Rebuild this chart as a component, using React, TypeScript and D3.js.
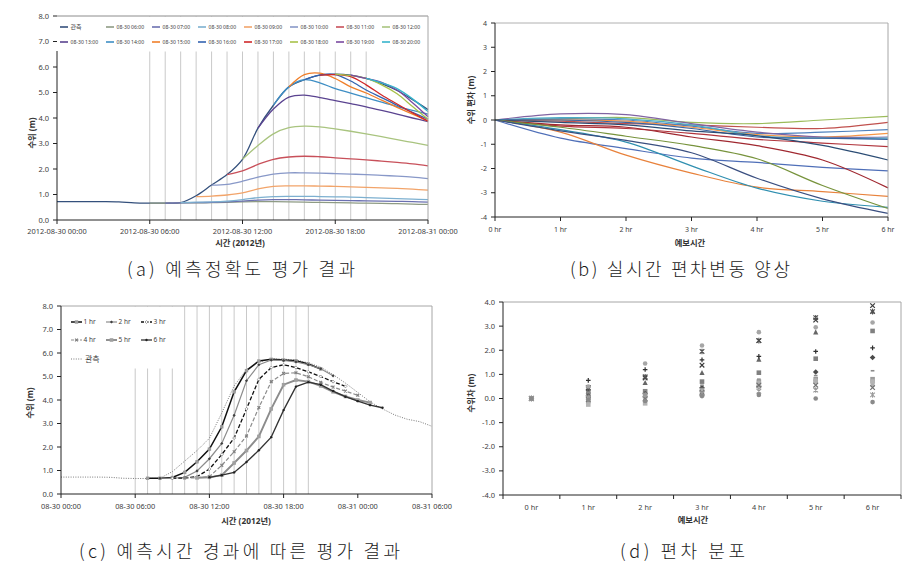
import React from "react";
import * as d3 from "d3";

// ================= Panel (a) data =================
const A_TICK_HOURS = [0, 6, 12, 18, 24];
const A_TICK_LABELS = ["2012-08-30 00:00", "2012-08-30 06:00", "2012-08-30 12:00", "2012-08-30 18:00", "2012-08-31 00:00"];
const A_Y_TICKS = [0, 1, 2, 3, 4, 5, 6, 7, 8];
const A_GRID_HOURS = [6, 7, 8, 9, 10, 11, 12, 13, 14, 15, 16, 17, 18, 19, 20];
// observed, hourly from 00:00 to 24:00
const A_OBS = [0.72, 0.72, 0.72, 0.72, 0.71, 0.67, 0.66, 0.66, 0.68, 0.95, 1.37, 1.78, 2.38, 3.6, 4.5, 5.22, 5.5, 5.68, 5.72, 5.68, 5.55, 5.35, 5.08, 4.72, 4.33];
// forecasts, hourly from issue hour to 24:00
const A_F06 = [0.66, 0.66, 0.67, 0.67, 0.68, 0.69, 0.71, 0.72, 0.72, 0.71, 0.7, 0.69, 0.68, 0.67, 0.66, 0.65, 0.64, 0.62, 0.61];
const A_F07 = [0.66, 0.67, 0.68, 0.69, 0.71, 0.74, 0.78, 0.8, 0.8, 0.79, 0.78, 0.77, 0.76, 0.75, 0.74, 0.73, 0.72, 0.7];
const A_F08 = [0.68, 0.7, 0.71, 0.74, 0.8, 0.88, 0.92, 0.93, 0.93, 0.92, 0.91, 0.9, 0.88, 0.86, 0.84, 0.82, 0.8];
const A_F09 = [0.92, 0.94, 0.98, 1.06, 1.22, 1.32, 1.34, 1.34, 1.33, 1.32, 1.3, 1.28, 1.26, 1.24, 1.21, 1.17];
const A_F10 = [1.37, 1.4, 1.52, 1.68, 1.8, 1.85, 1.85, 1.84, 1.82, 1.8, 1.78, 1.75, 1.72, 1.68, 1.62];
const A_F11 = [1.78, 1.93, 2.18, 2.38, 2.47, 2.5, 2.48, 2.44, 2.4, 2.36, 2.31, 2.26, 2.2, 2.12];
const A_F12 = [2.38, 2.92, 3.38, 3.62, 3.68, 3.65, 3.57, 3.48, 3.38, 3.27, 3.15, 3.04, 2.93];
const A_F13 = [3.6, 4.35, 4.82, 4.9, 4.8, 4.68, 4.56, 4.44, 4.3, 4.15, 4.0, 3.86];
const A_F14 = [4.5, 5.22, 5.5, 5.38, 5.15, 4.98, 4.8, 4.62, 4.45, 4.3, 4.15];
const A_F15 = [5.22, 5.7, 5.76, 5.55, 5.22, 4.98, 4.7, 4.42, 4.15, 3.88];
const A_F16 = [5.5, 5.68, 5.7, 5.45, 5.1, 4.8, 4.5, 4.22, 3.95];
const A_F17 = [5.68, 5.7, 5.62, 5.3, 4.9, 4.55, 4.2, 3.88];
const A_F18 = [5.72, 5.66, 5.55, 5.3, 4.95, 4.45, 3.95];
const A_F19 = [5.68, 5.55, 5.4, 5.1, 4.6, 4.05];
const A_F20 = [5.55, 5.38, 5.15, 4.75, 4.25];
const A_FORECASTS = [A_F06, A_F07, A_F08, A_F09, A_F10, A_F11, A_F12, A_F13, A_F14, A_F15, A_F16, A_F17, A_F18, A_F19, A_F20];
const A_ISSUE_HOURS = [6, 7, 8, 9, 10, 11, 12, 13, 14, 15, 16, 17, 18, 19, 20];
const A_LEGEND = ["관측", "08-30 06:00", "08-30 07:00", "08-30 08:00", "08-30 09:00", "08-30 10:00", "08-30 11:00", "08-30 12:00",
  "08-30 13:00", "08-30 14:00", "08-30 15:00", "08-30 16:00", "08-30 17:00", "08-30 18:00", "08-30 19:00", "08-30 20:00"];
const A_COLORS = ["#34507c", "#8e9b84", "#6b70b0", "#7db0d0", "#f2a46a", "#8898c8", "#c8505a", "#a9c47f",
  "#5a4390", "#3e8ec4", "#f07f2a", "#3363b0", "#d0282a", "#a8c24a", "#7a4aa0", "#36b4cc"];

// ================= Panel (b) data =================
const B_LEADS = ["0 hr", "1 hr", "2 hr", "3 hr", "4 hr", "5 hr", "6 hr"];
const B_Y_TICKS = [4, 3, 2, 1, 0, -1, -2, -3, -4];
const B_S01 = [0, 0.05, 0.1, -0.1, -0.15, 0.0, 0.15];
const B_S02 = [0, -0.05, -0.15, -0.2, -0.3, -0.35, -0.1];
const B_S03 = [0, 0.05, 0.0, -0.25, -0.55, -0.5, -0.4];
const B_S04 = [0, 0.0, -0.05, -0.3, -0.6, -0.7, -0.55];
const B_S05 = [0, 0.25, 0.22, -0.15, -0.5, -0.7, -0.7];
const B_S06 = [0, 0.1, 0.05, -0.2, -0.65, -0.75, -0.75];
const B_S07 = [0, 0.0, -0.1, -0.35, -0.7, -0.75, -0.8];
const B_S08 = [0, -0.25, -0.35, -0.55, -0.8, -0.95, -1.1];
const B_S09 = [0, -0.1, -0.2, -0.45, -0.65, -1.05, -1.65];
const B_S10 = [0, -0.75, -1.18, -1.57, -1.75, -1.95, -2.1];
const B_S11 = [0, -0.2, -0.3, -0.7, -1.06, -1.65, -2.8];
const B_S12 = [0, -0.5, -1.45, -2.19, -2.77, -2.95, -3.15];
const B_S13 = [0, -0.4, -0.91, -1.89, -2.81, -3.35, -3.6];
const B_S14 = [0, -0.3, -0.67, -1.05, -1.6, -2.7, -3.65];
const B_S15 = [0, -0.45, -0.84, -1.35, -2.4, -3.25, -3.85];
const B_SERIES = [B_S01, B_S02, B_S03, B_S04, B_S05, B_S06, B_S07, B_S08, B_S09, B_S10, B_S11, B_S12, B_S13, B_S14, B_S15];
const B_COLORS = ["#9bbb59", "#c0504d", "#4f81bd", "#f79646", "#8064a2", "#4bacc6", "#3b64a0", "#b0343c",
  "#2c4d75", "#4f6fb8", "#a02830", "#e8823c", "#2f8fb0", "#77933c", "#3a4f80"];

// ================= Panel (c) data =================
const C_TICK_HOURS = [0, 6, 12, 18, 24, 30];
const C_TICK_LABELS = ["08-30 00:00", "08-30 06:00", "08-30 12:00", "08-30 18:00", "08-31 00:00", "08-31 06:00"];
const C_Y_TICKS = [0, 1, 2, 3, 4, 5, 6, 7, 8];
const C_GRID_HOURS = [6, 7, 8, 9, 10, 11, 12, 13, 14, 15, 16, 17, 18, 19, 20];
const C_OBS = [0.72, 0.72, 0.72, 0.72, 0.71, 0.67, 0.66, 0.66, 0.67, 0.95, 1.4, 1.85, 2.37, 3.45, 4.6, 5.3, 5.62, 5.75, 5.74, 5.7, 5.58, 5.4, 5.08, 4.72, 4.32, 3.92, 3.62, 3.36, 3.18, 3.08, 2.88];
const C_H1 = [0.67, 0.67, 0.7, 0.92, 1.37, 1.91, 2.86, 4.35, 5.25, 5.66, 5.73, 5.7, 5.67, 5.53, 5.32];
const C_H2 = [0.67, 0.67, 0.71, 0.98, 1.5, 2.15, 3.35, 4.82, 5.5, 5.7, 5.68, 5.62, 5.5, 5.33, 5.03];
const C_H3 = [0.67, 0.68, 0.74, 1.06, 1.68, 2.38, 3.62, 4.88, 5.38, 5.5, 5.38, 5.2, 5.0, 4.78, 4.58];
const C_H4 = [0.68, 0.69, 0.74, 1.22, 1.8, 2.47, 3.68, 4.78, 5.13, 5.16, 4.99, 4.75, 4.55, 4.38, 4.2];
const C_H5 = [0.69, 0.71, 0.8, 1.32, 1.85, 2.45, 3.62, 4.65, 4.85, 4.78, 4.6, 4.35, 4.15, 4.0, 3.89];
const C_H6 = [0.71, 0.8, 0.92, 1.36, 1.86, 2.42, 3.57, 4.57, 4.76, 4.65, 4.38, 4.14, 3.95, 3.78, 3.67];
const C_SERIES = [C_H1, C_H2, C_H3, C_H4, C_H5, C_H6];
const C_START = [7, 8, 9, 10, 11, 12];
const C_NAMES = ["1 hr", "2 hr", "3 hr", "4 hr", "5 hr", "6 hr"];

// ================= Panel (d) data =================
const D_Y_TICKS = [4, 3, 2, 1, 0, -1, -2, -3, -4];
const D_S01 = [0, -0.05, -0.1, 0.1, 0.15, 0.0, -0.15];
const D_S02 = [0, 0.05, 0.15, 0.2, 0.3, 0.35, 0.15];
const D_S03 = [0, -0.05, 0.0, 0.25, 0.55, 0.55, 0.45];
const D_S04 = [0, 0.0, 0.05, 0.3, 0.65, 0.75, 0.55];
const D_S05 = [0, -0.25, -0.2, 0.15, 0.5, 0.7, 0.7];
const D_S06 = [0, -0.1, -0.05, 0.2, 0.62, 0.75, 0.75];
const D_S07 = [0, 0.0, 0.1, 0.35, 0.7, 0.8, 0.8];
const D_S08 = [0, 0.25, 0.35, 0.55, 0.8, 0.95, 1.15];
const D_S09 = [0, 0.1, 0.2, 0.45, 0.5, 1.1, 1.7];
const D_S10 = [0, 0.75, 1.2, 1.6, 1.75, 1.95, 2.1];
const D_S11 = [0, 0.2, 0.3, 0.7, 1.07, 1.65, 2.8];
const D_S12 = [0, 0.5, 1.45, 2.2, 2.75, 2.95, 3.15];
const D_S13 = [0, 0.4, 0.9, 1.95, 2.4, 3.35, 3.6];
const D_S14 = [0, 0.3, 0.65, 1.07, 1.62, 2.75, 3.62];
const D_S15 = [0, 0.45, 0.85, 1.38, 2.4, 3.25, 3.85];
const D_SERIES = [D_S01, D_S02, D_S03, D_S04, D_S05, D_S06, D_S07, D_S08, D_S09, D_S10, D_S11, D_S12, D_S13, D_S14, D_S15];
const D_MARKERS = ["circle", "star", "x", "circle", "square", "triangle", "square", "dash", "diamond", "plus", "square", "circle", "star", "triangle", "x"];
const D_COLORS = ["#8a8a8a", "#9a9a9a", "#707070", "#b0b0b0", "#b4b4b4", "#a0a0a0", "#9a9a9a", "#8a8a8a", "#4a4a4a", "#303030", "#808080", "#a6a6a6", "#505050", "#666666", "#3a3a3a"];

// ================= helpers =================
const FONT = "'Noto Sans', 'Noto Sans CJK KR', sans-serif";
const KFONT = "'Noto Sans CJK KR', sans-serif";
const TICK_COLOR = "#404040";

function Marker({ shape, x, y, s, color }: { shape: string; x: number; y: number; s: number; color: string }) {
  const h = s / 2;
  switch (shape) {
    case "circle":
      return <circle cx={x} cy={y} r={h} fill={color} />;
    case "square":
      return <rect x={x - h} y={y - h} width={s} height={s} fill={color} />;
    case "triangle":
      return <path d={`M${x},${y - h - 0.5}L${x + h + 0.3},${y + h}L${x - h - 0.3},${y + h}Z`} fill={color} />;
    case "diamond":
      return <path d={`M${x},${y - h - 0.5}L${x + h + 0.5},${y}L${x},${y + h + 0.5}L${x - h - 0.5},${y}Z`} fill={color} />;
    case "x":
      return <path d={`M${x - h},${y - h}L${x + h},${y + h}M${x + h},${y - h}L${x - h},${y + h}`} stroke={color} strokeWidth={1.2} fill="none" />;
    case "plus":
      return <path d={`M${x - h},${y}L${x + h},${y}M${x},${y - h}L${x},${y + h}`} stroke={color} strokeWidth={1.2} fill="none" />;
    case "star":
      return <path d={`M${x - h},${y - h}L${x + h},${y + h}M${x + h},${y - h}L${x - h},${y + h}M${x},${y - h - 0.5}L${x},${y + h + 0.5}`} stroke={color} strokeWidth={1.1} fill="none" />;
    case "dash":
      return <rect x={x - h * 0.8} y={y - 0.8} width={s * 0.8} height={1.6} fill={color} />;
    case "hdiamond":
      return <path d={`M${x},${y - h}L${x + h},${y}L${x},${y + h}L${x - h},${y}Z`} fill="#fff" stroke={color} strokeWidth={0.8} />;
    default:
      return null;
  }
}

// styles for (c) series
const C_STYLE = [
  { stroke: "#111", width: 1.5, dash: "", marker: "square", msize: 3.4, mcolor: "#9a9a9a" },
  { stroke: "#8c8c8c", width: 1.2, dash: "", marker: "diamond", msize: 2.2, mcolor: "#404040" },
  { stroke: "#111", width: 1.3, dash: "4,2", marker: "hdiamond", msize: 3, mcolor: "#8c8c8c" },
  { stroke: "#8c8c8c", width: 1.2, dash: "4,2", marker: "x", msize: 2.8, mcolor: "#808080" },
  { stroke: "#8c8c8c", width: 1.9, dash: "", marker: "square", msize: 3.6, mcolor: "#a0a0a0" },
  { stroke: "#333", width: 1.3, dash: "", marker: "circle", msize: 2.4, mcolor: "#222" },
];

export default function App() {
  // ---------- (a) ----------
  const ax = d3.scaleLinear().domain([0, 24]).range([57, 428]);
  const ay = d3.scaleLinear().domain([0, 8]).range([220, 16]);
  const lineA = (start: number) =>
    d3.line<number>().x((_, i) => ax(start + i)).y((v) => ay(v)).curve(d3.curveCatmullRom.alpha(0.5));

  // ---------- (b) ----------
  const bx = d3.scalePoint<string>().domain(B_LEADS).range([495, 888]);
  const by = d3.scaleLinear().domain([-4, 4]).range([217, 23]);
  const lineB = d3.line<number>().x((_, i) => bx(B_LEADS[i]) as number).y((v) => by(v)).curve(d3.curveCatmullRom.alpha(0.5));

  // ---------- (c) ----------
  const cx = d3.scaleLinear().domain([0, 30]).range([61, 432]);
  const cy = d3.scaleLinear().domain([0, 8]).range([494, 306]);
  const lineC = (start: number) => d3.line<number>().x((_, i) => cx(start + i)).y((v) => cy(v));

  // ---------- (d) ----------
  const dx = d3.scaleBand<string>().domain(B_LEADS).range([503, 901]);
  const dy = d3.scaleLinear().domain([-4, 4]).range([495, 302]);

  const legendRows = [A_LEGEND.slice(0, 8), A_LEGEND.slice(8)];
  const dOrder = D_SERIES.map((_, i) => D_SERIES.length - 1 - i);

  return (
    <svg width={922} height={567} style={{ position: "absolute", left: 0, top: 0, background: "#fff" }} fontFamily={FONT}>
      <rect x={0} y={0} width={922} height={567} fill="#fff" />

      {/* ================= (a) ================= */}
      <g>
        {A_GRID_HOURS.map((h) => (
          <line key={h} x1={ax(h)} x2={ax(h)} y1={ay(8)} y2={ay(0)} stroke="#c9c9c9" strokeWidth={1} />
        ))}
        <path d={lineA(0)(A_OBS) || ""} fill="none" stroke={A_COLORS[0]} strokeWidth={1.3} />
        {A_FORECASTS.map((s, i) => (
          <path key={i} d={lineA(A_ISSUE_HOURS[i])(s) || ""} fill="none" stroke={A_COLORS[i + 1]} strokeWidth={1.3} />
        ))}
        {/* legend box */}
        <rect x={56.5} y={16.5} width={371} height={35} fill="#fff" />
        {legendRows.map((row, r) =>
          row.map((name, k) => {
            const idx = r * 8 + k;
            const x0 = 60 + 46 * k;
            const y0 = r === 0 ? 27 : 42;
            return (
              <g key={idx}>
                <line x1={x0} x2={x0 + 8} y1={y0} y2={y0} stroke={A_COLORS[idx]} strokeWidth={1.6} />
                <text x={x0 + 10.5} y={y0 + 1.8} fontSize={idx === 0 ? 6 : 5.1} fill={TICK_COLOR} fontFamily={idx === 0 ? KFONT : FONT}>
                  {name}
                </text>
              </g>
            );
          })
        )}
        {/* frame */}
        <line x1={57} x2={428} y1={16} y2={16} stroke="#8c8c8c" strokeWidth={1} />
        <line x1={428} x2={428} y1={16} y2={220} stroke="#a6a6a6" strokeWidth={1} />
        <line x1={57} x2={57} y1={51} y2={220} stroke="#222" strokeWidth={1} />
        <line x1={57} x2={428} y1={220} y2={220} stroke="#222" strokeWidth={1} />
        {A_Y_TICKS.map((t) => (
          <g key={t}>
            <line x1={53} x2={57} y1={ay(t)} y2={ay(t)} stroke="#222" />
            <text x={49} y={ay(t) + 2.6} fontSize={7.5} textAnchor="end" fill={TICK_COLOR}>
              {t.toFixed(1)}
            </text>
          </g>
        ))}
        {A_TICK_HOURS.map((h, i) => (
          <g key={h}>
            <line x1={ax(h)} x2={ax(h)} y1={220} y2={224} stroke="#222" />
            <text x={ax(h)} y={234} fontSize={7.4} textAnchor="middle" fill={TICK_COLOR}>
              {A_TICK_LABELS[i]}
            </text>
          </g>
        ))}
        <text x={240} y={246} fontSize={8.3} fontWeight={700} textAnchor="middle" fill="#333">
          시간 (2012년)
        </text>
        <text transform="translate(35,133) rotate(-90)" fontSize={8.3} fontWeight={700} textAnchor="middle" fill="#333">
          수위 (m)
        </text>
      </g>

      {/* ================= (b) ================= */}
      <g>
        {B_SERIES.map((s, i) => (
          <path key={i} d={lineB(s) || ""} fill="none" stroke={B_COLORS[i]} strokeWidth={1.2} />
        ))}
        <line x1={495} x2={888} y1={23} y2={23} stroke="#b0b0b0" />
        <line x1={888} x2={888} y1={23} y2={217} stroke="#a6a6a6" />
        <line x1={495} x2={495} y1={23} y2={217} stroke="#222" />
        <line x1={495} x2={888} y1={217} y2={217} stroke="#222" />
        {B_Y_TICKS.map((t) => (
          <g key={t}>
            <line x1={491} x2={495} y1={by(t)} y2={by(t)} stroke="#222" />
            <text x={487} y={by(t) + 2.5} fontSize={7} textAnchor="end" fill={TICK_COLOR}>
              {t}
            </text>
          </g>
        ))}
        {B_LEADS.map((l) => (
          <g key={l}>
            <line x1={bx(l)} x2={bx(l)} y1={217} y2={221} stroke="#222" />
            <text x={bx(l)} y={231.5} fontSize={7} textAnchor="middle" fill={TICK_COLOR}>
              {l}
            </text>
          </g>
        ))}
        <text x={690} y={246} fontSize={8.3} fontWeight={700} textAnchor="middle" fill="#333">
          예보시간
        </text>
        <text transform="translate(474,100) rotate(-90)" fontSize={8.3} fontWeight={700} textAnchor="middle" fill="#333">
          수위 편차 (m)
        </text>
      </g>

      {/* ================= (c) ================= */}
      <g>
        {C_GRID_HOURS.map((h) => (
          <line key={h} x1={cx(h)} x2={cx(h)} y1={cy(8)} y2={cy(0)} stroke="#c9c9c9" strokeWidth={1} />
        ))}
        <path d={lineC(0)(C_OBS) || ""} fill="none" stroke="#7a7a7a" strokeWidth={1} strokeDasharray="1,1.4" />
        {C_SERIES.map((s, i) => {
          const st = C_STYLE[i];
          return (
            <g key={i}>
              <path d={lineC(C_START[i])(s) || ""} fill="none" stroke={st.stroke} strokeWidth={st.width} strokeDasharray={st.dash} />
              {s.map((v, j) => (
                <Marker key={j} shape={st.marker} x={cx(C_START[i] + j)} y={cy(v)} s={st.msize} color={st.mcolor} />
              ))}
            </g>
          );
        })}
        {/* legend */}
        <rect x={62} y={306.5} width={111} height={62} fill="#fff" />
        {C_NAMES.map((n, i) => {
          const st = C_STYLE[i];
          const x0 = 71 + 35 * (i % 3);
          const y0 = i < 3 ? 322 : 340;
          return (
            <g key={n}>
              <line x1={x0} x2={x0 + 11} y1={y0} y2={y0} stroke={st.stroke} strokeWidth={st.width} strokeDasharray={st.dash ? "3,1.5" : ""} />
              <Marker shape={st.marker} x={x0 + 5.5} y={y0} s={st.msize} color={st.mcolor} />
              <text x={x0 + 12.5} y={y0 + 2.3} fontSize={6.5} fill={TICK_COLOR}>
                {n}
              </text>
            </g>
          );
        })}
        <line x1={71} x2={82} y1={359} y2={359} stroke="#7a7a7a" strokeWidth={1} strokeDasharray="1,1.4" />
        <text x={85} y={362} fontSize={8} fill={TICK_COLOR} fontFamily={KFONT}>
          관측
        </text>
        {/* frame */}
        <line x1={61} x2={432} y1={306} y2={306} stroke="#a6a6a6" />
        <line x1={432} x2={432} y1={306} y2={494} stroke="#a6a6a6" />
        <line x1={61} x2={61} y1={306} y2={494} stroke="#222" />
        <line x1={61} x2={432} y1={494} y2={494} stroke="#222" />
        {C_Y_TICKS.map((t) => (
          <g key={t}>
            <line x1={57} x2={61} y1={cy(t)} y2={cy(t)} stroke="#222" />
            <text x={53} y={cy(t) + 2.6} fontSize={7.5} textAnchor="end" fill={TICK_COLOR}>
              {t.toFixed(1)}
            </text>
          </g>
        ))}
        {C_TICK_HOURS.map((h, i) => (
          <g key={h}>
            <line x1={cx(h)} x2={cx(h)} y1={494} y2={498} stroke="#222" />
            <text x={cx(h)} y={509} fontSize={7.4} textAnchor="middle" fill={TICK_COLOR}>
              {C_TICK_LABELS[i]}
            </text>
          </g>
        ))}
        <text x={246} y={524} fontSize={8.3} fontWeight={700} textAnchor="middle" fill="#333">
          시간 (2012년)
        </text>
        <text transform="translate(33,403) rotate(-90)" fontSize={8.3} fontWeight={700} textAnchor="middle" fill="#333">
          수위 (m)
        </text>
      </g>

      {/* ================= (d) ================= */}
      <g>
        {dOrder.map((i) => (
          <g key={i}>
            {D_SERIES[i].map((v, j) => (
              <Marker key={j} shape={D_MARKERS[i]} x={(dx(B_LEADS[j]) as number) + dx.bandwidth() / 2} y={dy(v)} s={4.6} color={D_COLORS[i]} />
            ))}
          </g>
        ))}
        <line x1={503} x2={901} y1={302} y2={302} stroke="#a6a6a6" />
        <line x1={901} x2={901} y1={302} y2={495} stroke="#a6a6a6" />
        <line x1={503} x2={503} y1={302} y2={495} stroke="#222" />
        <line x1={503} x2={901} y1={495} y2={495} stroke="#222" />
        {D_Y_TICKS.map((t) => (
          <g key={t}>
            <line x1={499} x2={503} y1={dy(t)} y2={dy(t)} stroke="#222" />
            <text x={495} y={dy(t) + 2.6} fontSize={7.5} textAnchor="end" fill={TICK_COLOR}>
              {t.toFixed(1)}
            </text>
          </g>
        ))}
        {B_LEADS.map((l) => (
          <g key={l}>
            <line x1={dx(l)} x2={dx(l)} y1={495} y2={499} stroke="#222" />
            <text x={(dx(l) as number) + dx.bandwidth() / 2} y={510} fontSize={7.3} textAnchor="middle" fill={TICK_COLOR}>
              {l}
            </text>
          </g>
        ))}
        <line x1={901} x2={901} y1={495} y2={499} stroke="#222" />
        <text x={693} y={523} fontSize={8.3} fontWeight={700} textAnchor="middle" fill="#333">
          예보시간
        </text>
        <text transform="translate(474,393) rotate(-90)" fontSize={8.3} fontWeight={700} textAnchor="middle" fill="#333">
          수위차 (m)
        </text>
      </g>

      {/* ================= captions ================= */}
      <g fontFamily={KFONT} fontSize={18} fontWeight={300} fill="#1a1a1a">
        <text x={127} y={276} textLength={228} lengthAdjust="spacing">(a) 예측정확도 평가 결과</text>
        <text x={570} y={276} textLength={220} lengthAdjust="spacing">(b) 실시간 편차변동 양상</text>
        <text x={79} y={558} textLength={321} lengthAdjust="spacing">(c) 예측시간 경과에 따른 평가 결과</text>
        <text x={620} y={558} textLength={125} lengthAdjust="spacing">(d) 편차 분포</text>
      </g>
    </svg>
  );
}
